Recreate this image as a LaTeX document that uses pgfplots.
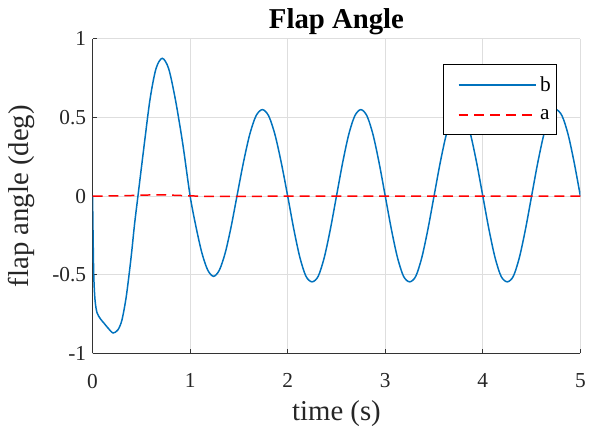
\documentclass[border=0pt]{standalone}
\usepackage{pgfplots}
\pgfplotsset{compat=1.18}
\usepackage{fontspec}
\setmainfont{Liberation Serif}
\definecolor{mblue}{RGB}{0,114,189}
\definecolor{gridgray}{RGB}{222,222,222}

\begin{document}
\begin{tikzpicture}
\begin{axis}[
    name=ax,
    scale only axis,
    width=490bp, height=316bp,
    xmin=0, xmax=5, ymin=-1, ymax=1,
    xtick={0,1,2,3,4,5},
    ytick={-1,-0.5,0,0.5,1},
    yticklabels={-1,-0.5,0,0.5,1},
    axis lines=left,
    axis line style={-, black!80, line width=0.8pt},
    tick style={black!80, line width=0.8pt},
    tick align=inside,
    major tick length=4bp,
    grid=major,
    grid style={gridgray, line width=0.8pt},
    /pgf/number format/assume math mode=true,
    ticklabel style={font=\fontsize{21.5}{21.5}\selectfont, black!85},
    xticklabel style={yshift=-17bp},
    yticklabel style={xshift=-3bp},
    xlabel={time (s)},
    ylabel={flap angle (deg)},
    label style={font=\fontsize{29}{29}\selectfont, black!85},
    xlabel style={yshift=-6bp},
    ylabel style={yshift=11bp},
    title={\textbf{Flap Angle}},
    title style={font=\fontsize{29}{29}\selectfont, yshift=-6bp},
    legend style={
        at={(0.95,0.92)}, anchor=north east,
        draw=black, fill=white,
        font=\fontsize{21.5}{21.5}\selectfont,
        inner xsep=3bp, inner ysep=5bp,
        nodes={inner ysep=8bp},
        cells={anchor=west},
    },
    legend image code/.code={
        \path[draw=none] (0bp,0bp) -- (92bp,0bp);
        \draw[#1, line width=1.8pt] (12bp,0bp) -- (90bp,0bp);
    },
    clip=true,
]

% b: flap angle response
\addplot[mblue, line width=1.5pt, smooth, tension=0.5] coordinates {
    (0,0) (0.004,-0.2) (0.012,-0.5) (0.025,-0.66) (0.045,-0.74)
    (0.08,-0.78) (0.12,-0.81) (0.16,-0.84) (0.21,-0.87) (0.26,-0.85)
    (0.30,-0.79) (0.34,-0.66) (0.37,-0.52) (0.40,-0.36) (0.43,-0.18)
    (0.465,0) (0.53,0.33) (0.59,0.62) (0.65,0.81) (0.714,0.876)
    (0.78,0.81) (0.85,0.61) (0.925,0.33) (1.0,0)
    (1.06,-0.195) (1.12,-0.36) (1.18,-0.47) (1.24,-0.51) (1.30,-0.47)
    (1.36,-0.36) (1.42,-0.195) (1.48,0)
    (1.545,0.21) (1.61,0.39) (1.675,0.51) (1.74,0.55) (1.805,0.51)
    (1.87,0.39) (1.935,0.21) (2.0,0)
    (2.0625,-0.21) (2.125,-0.39) (2.1875,-0.51) (2.25,-0.545) (2.3125,-0.51)
    (2.375,-0.39) (2.4375,-0.21) (2.5,0)
    (2.5625,0.21) (2.625,0.39) (2.6875,0.51) (2.75,0.55) (2.8125,0.51)
    (2.875,0.39) (2.9375,0.21) (3.0,0)
    (3.0625,-0.21) (3.125,-0.39) (3.1875,-0.51) (3.25,-0.545) (3.3125,-0.51)
    (3.375,-0.39) (3.4375,-0.21) (3.5,0)
    (3.5625,0.21) (3.625,0.39) (3.6875,0.51) (3.75,0.55) (3.8125,0.51)
    (3.875,0.39) (3.9375,0.21) (4.0,0)
    (4.0625,-0.21) (4.125,-0.39) (4.1875,-0.51) (4.25,-0.545) (4.3125,-0.51)
    (4.375,-0.39) (4.4375,-0.21) (4.5,0)
    (4.5625,0.21) (4.625,0.39) (4.6875,0.51) (4.75,0.55) (4.8125,0.51)
    (4.875,0.39) (4.9375,0.21) (5.0,0)
};
\addlegendentry{b}

% a: reference, near zero
\addplot[red, line width=1.5pt, dash pattern=on 10bp off 6bp, smooth] coordinates {
    (0,0) (0.3,0.002) (0.5,0.006) (0.7,0.008) (0.9,0.004)
    (1.2,-0.002) (1.6,-0.002) (2.0,0) (3,0) (4,0) (5,0)
};
\addlegendentry{a}

\end{axis}
\path (ax.south west) ++(-93bp,-72bp) rectangle ++(589bp,427bp);
\end{tikzpicture}
\end{document}
